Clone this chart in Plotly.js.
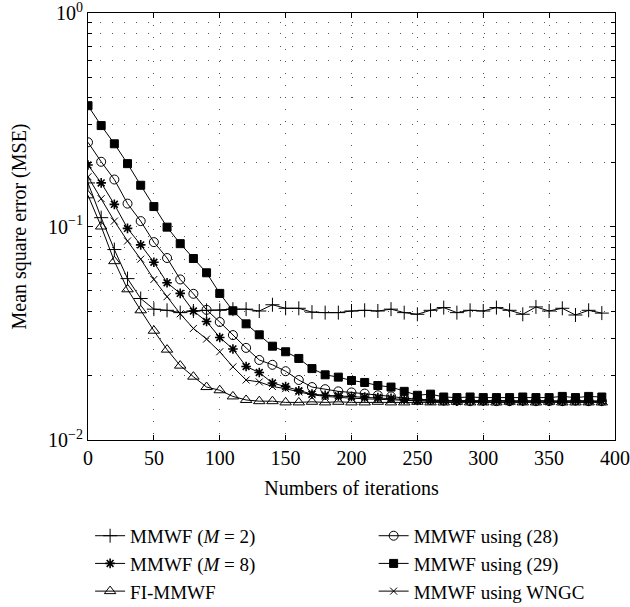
<!DOCTYPE html>
<html>
<head>
<meta charset="utf-8">
<script src="https://cdn.plot.ly/plotly-3.0.1.min.js"></script>
<style>html,body{margin:0;padding:0;background:#fff;}#chart{width:630px;height:607px;}</style>
</head>
<body>
<div id="chart"></div>
<script>
const iterations = [0,10,20,30,40,50,60,70,80,90,100,110,120,130,140,150,160,170,180,190,200,210,220,230,240,250,260,270,280,290,300,310,320,330,340,350,360,370,380,390];

const mmwfM2 = [0.160,0.110,0.078,0.057,0.046,0.041,0.0405,0.0395,0.0402,0.0405,0.0405,0.041,0.041,0.0402,0.043,0.0414,0.0414,0.0397,0.0395,0.0395,0.0402,0.0405,0.0402,0.041,0.0395,0.0388,0.0405,0.0417,0.0395,0.0405,0.0402,0.0417,0.0405,0.0388,0.042,0.0402,0.0414,0.0385,0.0405,0.0393];
const mmwfM8 = [0.194,0.160,0.127,0.098,0.082,0.068,0.0545,0.0486,0.0402,0.0359,0.0302,0.0267,0.0221,0.0207,0.0185,0.0178,0.0170,0.0164,0.0162,0.0161,0.0160,0.0159,0.0158,0.0157,0.0155,0.0153,0.0154,0.0153,0.0152,0.0153,0.0152,0.0153,0.0152,0.0152,0.0153,0.0152,0.0152,0.0153,0.0152,0.0152];
const fiMmwf = [0.140,0.100,0.0688,0.0508,0.0405,0.0325,0.0265,0.0223,0.0198,0.0177,0.0171,0.0160,0.0154,0.0152,0.0152,0.0150,0.0150,0.0151,0.0150,0.0151,0.0150,0.0150,0.0151,0.0150,0.0150,0.0151,0.0150,0.0150,0.0151,0.0150,0.0150,0.0150,0.0151,0.0150,0.0150,0.0151,0.0150,0.0150,0.0150,0.0150];
const mmwf28 = [0.248,0.201,0.166,0.128,0.106,0.0845,0.0712,0.0565,0.0484,0.0407,0.0357,0.0310,0.0270,0.0237,0.0225,0.0210,0.0191,0.0177,0.0173,0.0169,0.0167,0.0165,0.0162,0.0160,0.0157,0.0155,0.0154,0.0153,0.0153,0.0152,0.0153,0.0152,0.0152,0.0153,0.0152,0.0152,0.0152,0.0153,0.0152,0.0152];
const mmwf29 = [0.368,0.297,0.244,0.197,0.156,0.124,0.0993,0.0831,0.0708,0.0607,0.0486,0.0403,0.0350,0.0311,0.0275,0.0259,0.0241,0.0216,0.0202,0.0197,0.0190,0.0186,0.0180,0.0177,0.0169,0.0162,0.0164,0.0159,0.0158,0.0159,0.0158,0.0158,0.0158,0.0159,0.0158,0.0158,0.0160,0.0158,0.0160,0.0159];
const mmwfWngc = [0.171,0.135,0.106,0.0855,0.0703,0.0565,0.0469,0.0390,0.0333,0.0297,0.0259,0.0220,0.0191,0.0187,0.0178,0.0174,0.0168,0.0163,0.0160,0.0158,0.0157,0.0156,0.0155,0.0154,0.0153,0.0152,0.0152,0.0151,0.0151,0.0152,0.0151,0.0151,0.0151,0.0152,0.0151,0.0151,0.0151,0.0151,0.0152,0.0151];

const names = ['MMWF (<i>M</i> = 2)','MMWF (<i>M</i> = 8)','FI-MMWF','MMWF using (28)','MMWF using (29)','MMWF using WNGC'];
const yTickVals = [0.01,0.1,1];
const yTickText = ['10<sup>−2</sup>','10<sup>−1</sup>','10<sup>0</sup>'];
const yMinorVals = [0.02,0.03,0.04,0.05,0.06,0.07,0.08,0.09,0.2,0.3,0.4,0.5,0.6,0.7,0.8,0.9];
const xTickVals = [0,50,100,150,200,250,300,350,400];

const FONT = '"Liberation Serif", "Times New Roman", serif';
function tr(y, name, sym, size, lw, legend) {
  return {
    x: iterations, y: y, name: name, type: 'scatter', mode: 'lines+markers',
    line: {color: '#000', width: 1},
    marker: {symbol: sym, size: size, color: '#000', line: {color: '#000', width: lw}},
    legend: legend
  };
}
const data = [
  tr(mmwfM2, names[0], 'cross-thin-open', 10, 1, 'legend'),
  tr(mmwfM8, names[1], 'asterisk-open', 8, 1.6, 'legend'),
  tr(fiMmwf, names[2], 'triangle-up-open', 10, 1, 'legend'),
  tr(mmwf28, names[3], 'circle-open', 9, 1, 'legend2'),
  tr(mmwf29, names[4], 'square', 8, 1, 'legend2'),
  tr(mmwfWngc, names[5], 'x-thin-open', 7, 1, 'legend2')
];
const gridDash = '1px,11px';
const GRIDC = '#555';
const layout = {
  width: 630, height: 607,
  margin: {l: 88, r: 15, t: 13, b: 167, autoexpand: false},
  paper_bgcolor: '#fff', plot_bgcolor: '#fff',
  font: {family: FONT, size: 20, color: '#000'},
  showlegend: true,
  xaxis: {
    range: [0, 400], tickmode: 'array', tickvals: xTickVals, ticks: 'inside', ticklen: 5, tickcolor: '#000',
    showline: true, linecolor: '#000', linewidth: 1, mirror: 'ticks',
    showgrid: true, gridcolor: GRIDC, griddash: gridDash, gridwidth: 1,
    zeroline: false, ticklabeloverflow: 'allow',
    title: {text: 'Numbers of iterations', font: {family: FONT, size: 20}, standoff: 12},
    tickfont: {family: FONT, size: 20}
  },
  yaxis: {
    type: 'log', range: [-2, 0], tickmode: 'array', tickvals: yTickVals, ticktext: yTickText,
    ticks: 'inside', ticklen: 5, tickcolor: '#000',
    showline: true, linecolor: '#000', linewidth: 1, mirror: 'ticks',
    showgrid: true, gridcolor: GRIDC, griddash: gridDash, gridwidth: 1,
    zeroline: false, ticklabeloverflow: 'allow',
    minor: {tickmode: 'array', tickvals: yMinorVals, ticks: 'inside', ticklen: 4, tickcolor: '#000',
            showgrid: true, gridcolor: GRIDC, griddash: gridDash, gridwidth: 1},
    title: {text: 'Mean square error (MSE)', font: {family: FONT, size: 20}, standoff: 16},
    tickfont: {family: FONT, size: 20}
  },
  legend: {x: 0.004, y: -0.18, xanchor: 'left', yanchor: 'top', orientation: 'v',
           bgcolor: 'rgba(0,0,0,0)', borderwidth: 0, font: {family: FONT, size: 19}, tracegroupgap: 0},
  legend2: {x: 0.542, y: -0.18, xanchor: 'left', yanchor: 'top', orientation: 'v',
           bgcolor: 'rgba(0,0,0,0)', borderwidth: 0, font: {family: FONT, size: 19}, tracegroupgap: 0}
};
Plotly.newPlot('chart', data, layout, {displayModeBar: false, staticPlot: true});
</script>
</body>
</html>
